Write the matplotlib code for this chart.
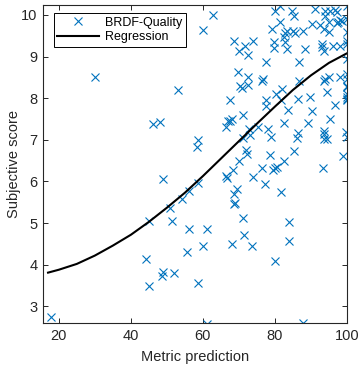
import matplotlib
matplotlib.use("Agg")
import matplotlib.pyplot as plt

plt.rcParams['font.family'] = ['Liberation Sans', 'DejaVu Sans']

# Scatter data (metric prediction, subjective score)
metric = [30.0, 53.2, 46.1, 48.1, 59.9, 58.5, 58.3, 49.0, 56.2, 58.7,
          54.1, 50.9, 44.9, 51.5, 56.0, 55.7, 44.1, 44.9, 48.7, 49.0,
          52.0, 58.7, 60.1, 68.2, 73.6, 80.1, 84.0, 17.8, 61.1, 87.9,
          70.0, 68.3, 66.6, 66.4, 69.4, 68.7, 68.7, 69.0, 71.0, 71.5,
          61.2, 76.4, 74.0, 77.3, 80.0, 80.5, 79.4, 82.5, 93.2, 81.6,
          84.0, 67.1, 67.5, 68.0, 66.4, 72.9, 78.2, 78.9, 82.6, 89.3,
          95.3, 86.3, 86.1, 93.6, 93.5, 94.4, 99.8, 100.0, 71.0, 71.9,
          72.2, 78.5, 85.4, 99.0, 73.2, 62.9, 68.5, 71.7, 73.9, 69.9,
          72.6, 77.5, 69.6, 72.4, 76.3, 76.8, 70.3, 70.8, 72.4, 67.4,
          71.0, 77.5, 77.5, 75.4, 100.0, 80.0, 81.4, 84.7, 85.3, 91.0,
          93.9, 95.3, 96.7, 97.2, 93.9, 98.1, 97.6, 98.6, 97.2, 94.9,
          81.4, 90.2, 92.5, 93.5, 94.9, 79.1, 83.3, 82.8, 85.1, 85.6,
          87.9, 82.4, 79.8, 82.8, 79.8, 83.3, 88.4, 93.0, 93.0, 93.5,
          96.2, 98.1, 100.0, 100.0, 100.0, 100.0, 100.0, 100.0, 86.8, 93.9,
          95.1, 98.1, 93.7, 82.0, 80.3, 81.7, 86.5, 89.8, 83.5, 90.4,
          96.7, 86.8, 94.4, 100.0, 100.0, 100.0, 100.0, 100.0, 100.0, 100.0,
          93.5]
score = [8.51, 8.19, 7.37, 7.44, 9.64, 7.00, 6.84, 6.05, 5.77, 5.97,
         5.57, 5.37, 5.04, 5.04, 4.87, 4.31, 4.14, 3.49, 3.73, 3.83,
         3.80, 3.56, 4.46, 4.51, 4.44, 4.10, 4.56, 2.74, 2.58, 2.60,
         6.49, 6.27, 6.09, 6.13, 5.82, 5.71, 5.46, 5.49, 5.13, 4.71,
         4.87, 6.33, 6.11, 5.95, 6.33, 6.35, 6.27, 6.49, 6.33, 5.75,
         5.03, 7.45, 7.45, 7.49, 7.32, 7.25, 7.27, 7.08, 7.41, 7.40,
         7.51, 7.17, 7.05, 7.21, 7.03, 7.01, 7.19, 7.08, 7.05, 6.75,
         6.67, 6.63, 6.73, 6.61, 7.11, 10.00, 9.37, 9.26, 9.37, 9.13,
         9.04, 8.88, 8.63, 8.52, 8.42, 8.46, 8.30, 8.24, 8.31, 7.96,
         7.59, 7.96, 7.81, 7.31, 10.22, 10.10, 10.22, 10.10, 9.97, 10.14,
         10.10, 10.10, 10.12, 10.08, 9.98, 9.89, 9.84, 9.86, 9.81, 9.82,
         9.84, 9.78, 9.76, 9.66, 9.58, 9.66, 9.62, 9.56, 9.62, 9.57,
         9.61, 9.46, 9.34, 9.34, 9.20, 9.18, 9.18, 9.30, 9.22, 9.14,
         9.25, 9.25, 9.90, 9.58, 9.38, 9.30, 8.94, 8.58, 8.86, 8.47,
         8.52, 8.52, 8.42, 8.23, 8.10, 7.96, 7.98, 8.02, 7.72, 7.69,
         7.83, 8.42, 8.15, 8.30, 8.10, 8.02, 7.98, 7.96, 8.46, 8.26,
         7.13]

# Regression curve
reg_x = [17, 20, 25, 30, 35, 40, 45, 50, 55, 60, 65, 70, 75, 80, 85, 90, 95, 100]
reg_y = [3.81, 3.88, 4.02, 4.22, 4.46, 4.72, 5.03, 5.37, 5.73, 6.13, 6.55,
         6.97, 7.39, 7.80, 8.20, 8.55, 8.85, 9.08]

xticks = [20, 40, 60, 80, 100]
yticks = [3, 4, 5, 6, 7, 8, 9, 10]

dark = '#262626'
blue = '#0072BD'

fig = plt.figure(figsize=(3.61, 3.70), dpi=100)
ax = fig.add_axes([43/361, 1 - 323/370, (347-43)/361, (323-5)/370])

ax.plot(metric, score, linestyle='none', marker='x', color=blue,
        markersize=5.5, markeredgewidth=0.8, label='BRDF-Quality')
ax.plot(reg_x, reg_y, color='black', linewidth=1.5, label='Regression')

ax.set_xlim(15.6, 100)
ax.set_ylim(2.6, 10.24)
ax.set_xticks(xticks)
ax.set_yticks(yticks)
ax.tick_params(direction='in', top=True, right=True, length=3.5, width=0.7,
               colors=dark, labelsize=10.5, pad=4)
for s in ax.spines.values():
    s.set_color(dark)
    s.set_linewidth(0.8)

ax.set_xlabel('Metric prediction', fontsize=10.5, color=dark)
ax.set_ylabel('Subjective score', fontsize=10.5, color=dark)
ax.xaxis.set_label_coords(0.5, -0.085)
ax.yaxis.set_label_coords(-0.072, 0.5)

leg = ax.legend(loc='upper left', fontsize=9, fancybox=False, framealpha=1,
                edgecolor='black', handlelength=3.3, borderpad=0.3,
                labelspacing=0.2, handletextpad=0.5,
                bbox_to_anchor=(0.035, 0.975), borderaxespad=0)
leg.get_frame().set_linewidth(0.7)
for t in leg.get_texts():
    t.set_color('black')

fig.savefig('out.png', dpi=100)
